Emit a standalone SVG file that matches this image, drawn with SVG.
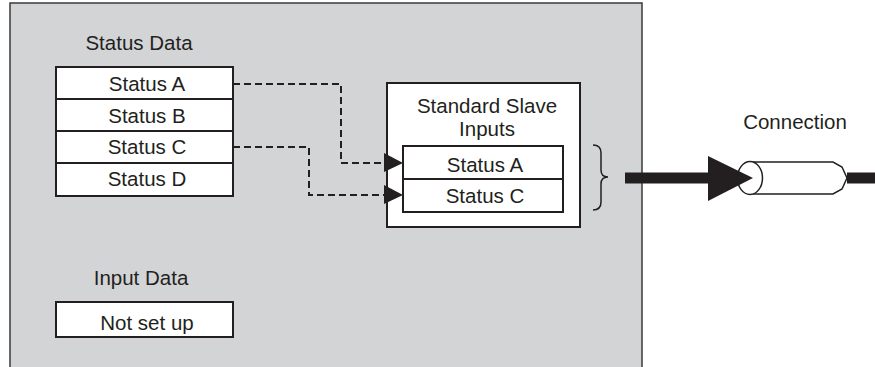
<svg xmlns="http://www.w3.org/2000/svg" width="875" height="367" viewBox="0 0 875 367">
<style>
text{font-family:"Liberation Sans",Arial,sans-serif;font-size:20.5px;fill:#231f20;text-anchor:middle}
.cell{fill:#fff;stroke:#231f20;stroke-width:2}
.dash{fill:none;stroke:#231f20;stroke-width:2;stroke-dasharray:7,4}
</style>
<defs>
<marker id="ah" viewBox="0 0 10 10" refX="10" refY="5" markerWidth="19" markerHeight="19" markerUnits="userSpaceOnUse" orient="auto">
<path d="M0,0 L10,5 L0,10 Z" fill="#231f20"/>
</marker>
</defs>
<g id="device">
<rect x="10" y="3" width="632" height="370" fill="#d3d4d6" stroke="#3a3a3a" stroke-width="1.5"/>
</g>
<g id="status-data">
<text x="139" y="50">Status Data</text>
<rect class="cell" x="56" y="67" width="177" height="32"/>
<rect class="cell" x="56" y="99" width="177" height="32"/>
<rect class="cell" x="56" y="131" width="177" height="32"/>
<rect class="cell" x="56" y="163" width="177" height="33"/>
<text x="147" y="91">Status A</text>
<text x="147" y="123">Status B</text>
<text x="147" y="154">Status C</text>
<text x="147" y="186">Status D</text>
</g>
<g id="input-data">
<text x="141" y="285">Input Data</text>
<rect class="cell" x="56" y="302" width="177" height="35"/>
<text x="147" y="330">Not set up</text>
</g>
<g id="slave-inputs">
<rect class="cell" x="387" y="83" width="193" height="144"/>
<text x="487" y="113">Standard Slave</text>
<text x="487" y="136">Inputs</text>
<rect class="cell" x="403" y="146" width="160" height="33"/>
<rect class="cell" x="403" y="179" width="160" height="33"/>
<text x="485" y="172">Status A</text>
<text x="485" y="203">Status C</text>
</g>
<g id="brace">
<path d="M593,145 Q601,145 601,153 L601,170 Q601,177 608,177 Q601,177 601,184 L601,202 Q601,210 593,210" fill="none" stroke="#231f20" stroke-width="1.5"/>
</g>
<g id="connection">
<text x="795" y="129">Connection</text>
<path d="M750,162 L833,162 L842,167 L847,178 L842,189 L833,194 L750,194 Z" fill="#fff" stroke="#231f20" stroke-width="1.5"/>
<ellipse cx="750" cy="178" rx="12.5" ry="16.5" fill="#fff" stroke="#231f20" stroke-width="1.5"/>
</g>
<g id="connectors">
<path class="dash" d="M233,84 H341 V163 H384"/>
<path class="dash" d="M233,147 H309 V195 H384"/>
<path d="M384,153 L403,163 L384,172 Z" fill="#231f20"/>
<path d="M384,185 L403,195 L384,204 Z" fill="#231f20"/>
<rect x="625" y="172.5" width="84" height="11" fill="#231f20"/>
<path d="M708,156 L753,178 L708,201 Z" fill="#231f20"/>
<rect x="847" y="172.5" width="28" height="11" fill="#231f20"/>
</g>
</svg>
